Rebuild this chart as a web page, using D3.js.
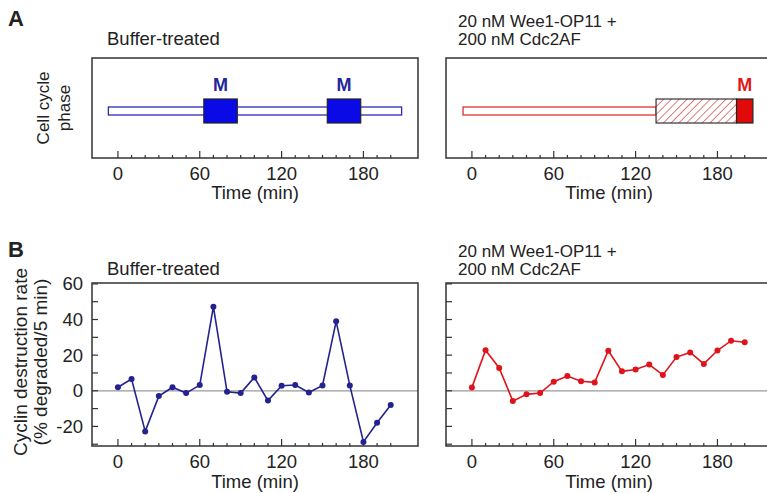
<!DOCTYPE html>
<html>
<head>
<meta charset="utf-8">
<script src="https://cdn.jsdelivr.net/npm/d3@7"></script>
<style>
  body { margin: 0; background: #fff; }
  svg text { font-family: "Liberation Sans", Arial, Helvetica, sans-serif; fill: #222; }
</style>
</head>
<body>
<div id="my_dataviz"></div>
<script>
// time points (min) sampled every 10 min
const times = [0, 10, 20, 30, 40, 50, 60, 70, 80, 90, 100, 110, 120, 130, 140, 150, 160, 170, 180, 190, 200];
// cyclin destruction rate (% degraded / 5 min)
const bufferRate = [2, 6.6, -22.8, -3, 2, -1.3, 3.2, 47.2, -0.6, -1.3, 7.5, -5.5, 2.8, 3.2, -1, 3, 39, 3, -28.7, -18, -8];
const weeRate = [1.9, 22.8, 12.8, -5.8, -2, -1.3, 5.1, 8.3, 5.3, 4.7, 22.5, 10.9, 11.9, 14.7, 8.9, 18.9, 21.5, 15.1, 22.6, 28.1, 27.2];
// cell cycle phases: [start, end, kind]
const bufferPhases = [[-7, 208, "I"], [63, 87.5, "M"], [153.5, 178, "M"]];
const weePhases = [[-6.5, 135, "I"], [135, 194, "arrest"], [194, 206, "M"]];
const xTickLabels = [0, 60, 120, 180];
const yTickLabels = [-20, 0, 20, 40, 60];
const titleLeft = ["Buffer-treated"];
const titleRight = ["20 nM Wee1-OP11 +", "200 nM Cdc2AF"];

const W = 767, H = 493;
const svg = d3.select("#my_dataviz").append("svg")
  .attr("width", W).attr("height", H);

const defs = svg.append("defs");
const hatch = defs.append("pattern")
  .attr("id", "hatch").attr("patternUnits", "userSpaceOnUse")
  .attr("width", 5.5).attr("height", 5.5)
  .attr("patternTransform", "rotate(45)");
hatch.append("rect").attr("width", 5.5).attr("height", 5.5).attr("fill", "#fff");
hatch.append("line").attr("x1", 0).attr("y1", 0).attr("x2", 0).attr("y2", 5.5)
  .attr("stroke", "#cc3a3a").attr("stroke-width", 1.3);

const panelW = 326;
const lefts = [92, 446];
const xDomain = [-19, 220];
const frame = "#333";
const fs = 18.5;

const colors = [
  { line: "#23238f", thin: "#2a2ac0", fill: "#0a0ae6", label: "#25259a" },
  { line: "#e0131b", thin: "#e23030", fill: "#e00a0a", label: "#e01818" }
];

function xAxisTicks(g, x, bottom) {
  d3.range(0, 201, 10).forEach(t => {
    const major = t % 60 === 0;
    g.append("line")
      .attr("x1", x(t)).attr("x2", x(t))
      .attr("y1", bottom).attr("y2", bottom - (major ? 7 : 3))
      .attr("stroke", frame).attr("stroke-width", 1.2);
  });
  g.selectAll(null).data(xTickLabels).enter().append("text")
    .attr("x", d => x(d)).attr("y", bottom + 22)
    .attr("text-anchor", "middle").attr("font-size", fs)
    .text(d => d);
}

function titles(lines, x0, y0) {
  lines.forEach((t, k) => svg.append("text").attr("x", x0).attr("y", y0 + k * 18)
    .attr("font-size", lines.length > 1 ? 17 : fs).text(t));
}

// ---------- Panel A ----------
const aTop = 58, aBottom = 158, barMid = 111;
svg.append("text").attr("x", 8).attr("y", 26).attr("font-size", 22)
  .attr("font-weight", "bold").text("A");

[bufferPhases, weePhases].forEach((phases, i) => {
  const x = d3.scaleLinear().domain(xDomain).range([lefts[i], lefts[i] + panelW]);
  const g = svg.append("g");
  const c = colors[i];
  g.append("rect").attr("x", lefts[i]).attr("y", aTop)
    .attr("width", panelW).attr("height", aBottom - aTop)
    .attr("fill", "none").attr("stroke", frame).attr("stroke-width", 1.5);
  xAxisTicks(g, x, aBottom);
  g.append("text").attr("x", lefts[i] + panelW / 2).attr("y", aBottom + 41)
    .attr("text-anchor", "middle").attr("font-size", fs).text("Time (min)");

  phases.forEach(p => {
    const [s, e, kind] = p;
    if (kind === "I") {
      g.append("rect").attr("x", x(s)).attr("y", barMid - 4)
        .attr("width", x(e) - x(s)).attr("height", 8)
        .attr("fill", "#fff").attr("stroke", c.thin).attr("stroke-width", 1.3);
    } else if (kind === "arrest") {
      g.append("rect").attr("x", x(s)).attr("y", barMid - 12)
        .attr("width", x(e) - x(s)).attr("height", 24)
        .attr("fill", "url(#hatch)").attr("stroke", "#333").attr("stroke-width", 1.2);
    } else {
      g.append("rect").attr("x", x(s)).attr("y", barMid - 12)
        .attr("width", x(e) - x(s)).attr("height", 24)
        .attr("fill", c.fill).attr("stroke", "#222").attr("stroke-width", 1.2);
      g.append("text").attr("x", x((s + e) / 2)).attr("y", barMid - 20)
        .attr("text-anchor", "middle").attr("font-size", 18).attr("font-weight", "bold")
        .style("fill", c.label).text("M");
    }
  });
});

titles(titleLeft, 107, 45);
titles(titleRight, 458, 27);

svg.append("text").attr("transform", "translate(49,108) rotate(-90)")
  .attr("text-anchor", "middle").attr("font-size", 17).text("Cell cycle");
svg.append("text").attr("transform", "translate(70,108) rotate(-90)")
  .attr("text-anchor", "middle").attr("font-size", 17).text("phase");

// ---------- Panel B ----------
const bTop = 283, bBottom = 446;
svg.append("text").attr("x", 8).attr("y", 257).attr("font-size", 22)
  .attr("font-weight", "bold").text("B");

const y = d3.scaleLinear().domain([-31, 60.5]).range([bBottom, bTop]);

[bufferRate, weeRate].forEach((vals, i) => {
  const x = d3.scaleLinear().domain(xDomain).range([lefts[i], lefts[i] + panelW]);
  const g = svg.append("g");
  const c = colors[i];
  // zero line
  g.append("line").attr("x1", lefts[i]).attr("x2", lefts[i] + panelW)
    .attr("y1", y(0)).attr("y2", y(0))
    .attr("stroke", "#999").attr("stroke-width", 1.2);
  g.append("rect").attr("x", lefts[i]).attr("y", bTop)
    .attr("width", panelW).attr("height", bBottom - bTop)
    .attr("fill", "none").attr("stroke", frame).attr("stroke-width", 1.5);
  xAxisTicks(g, x, bBottom);
  d3.range(-30, 61, 10).forEach(v => {
    g.append("line").attr("x1", lefts[i]).attr("x2", lefts[i] + 6)
      .attr("y1", y(v)).attr("y2", y(v))
      .attr("stroke", frame).attr("stroke-width", 1.2);
  });
  if (i === 0) {
    g.selectAll(null).data(yTickLabels).enter().append("text")
      .attr("x", lefts[i] - 9).attr("y", d => y(d) + 6.5)
      .attr("text-anchor", "end").attr("font-size", fs).text(d => d);
  }
  g.append("text").attr("x", lefts[i] + panelW / 2).attr("y", bBottom + 42)
    .attr("text-anchor", "middle").attr("font-size", fs).text("Time (min)");

  const pts = times.map((t, k) => [t, vals[k]]);
  g.append("path").datum(pts)
    .attr("fill", "none").attr("stroke", c.line).attr("stroke-width", 1.6)
    .attr("d", d3.line().x(d => x(d[0])).y(d => y(d[1])));
  g.selectAll(null).data(pts).enter().append("circle")
    .attr("cx", d => x(d[0])).attr("cy", d => y(d[1])).attr("r", 3)
    .attr("fill", c.line);
});

titles(titleLeft, 107, 275);
titles(titleRight, 458, 257);

svg.append("text").attr("transform", "translate(27,362) rotate(-90)")
  .attr("text-anchor", "middle").attr("font-size", 19).text("Cyclin destruction rate");
svg.append("text").attr("transform", "translate(47,362) rotate(-90)")
  .attr("text-anchor", "middle").attr("font-size", 19).text("(% degraded/5 min)");
</script>
</body>
</html>
